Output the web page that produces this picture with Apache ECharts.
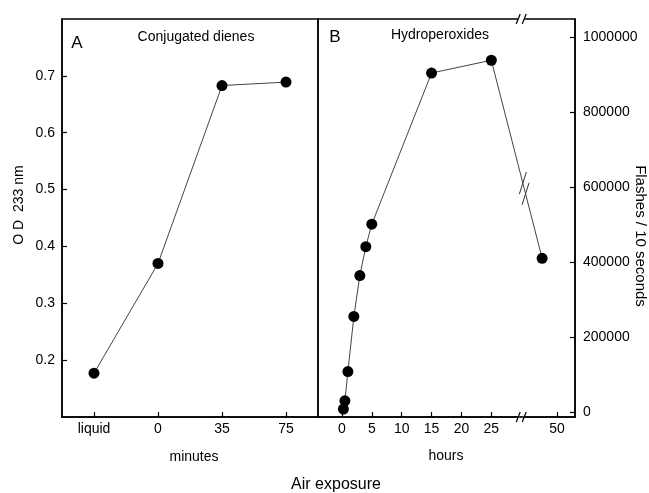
<!DOCTYPE html>
<html><head><meta charset="utf-8">
<script src="https://cdn.jsdelivr.net/npm/echarts@6/dist/echarts.min.js"></script>
<style>html,body{margin:0;padding:0;background:#fff}#c{width:649px;height:493px}</style>
</head><body><div id="c"></div>
<script>
// ---- data ----
const minuteCategories = ['liquid', '0', '35', '75'];
const dieneValues = [0.177, 0.370, 0.683, 0.689];
const hourValues = [0.25, 0.5, 1, 2, 3, 4, 5, 15, 25, 47.5];
const flashValues = [8000, 30000, 108000, 255000, 364000, 441000, 501000, 904000, 938000, 410000];
const hourTicks = [0, 5, 10, 15, 20, 25, 50];
const flashTicks = [0, 200000, 400000, 600000, 800000, 1000000];
const hourBreak = { start: 30, end: 44 };

const FONT = 'Liberation Sans, Arial, Helvetica, sans-serif';
const chart = echarts.init(document.getElementById('c'), null, { renderer: 'canvas' });

const axLine = { show: true, onZero: false, lineStyle: { color: '#000', width: 1.5 } };
const tick = { show: true, inside: true, length: 5, lineStyle: { color: '#000', width: 1.2 } };
const lab = { color: '#000', fontSize: 14, fontFamily: FONT };

chart.setOption({
  animation: false,
  backgroundColor: '#fff',
  grid: [
    { left: 62, top: 19, width: 256, height: 398, show: true, borderColor: '#000', borderWidth: 1.5, backgroundColor: 'transparent' },
    { left: 318, top: 19, width: 257, height: 398, show: true, borderColor: '#000', borderWidth: 1.5, backgroundColor: 'transparent' }
  ],
  xAxis: [
    { type: 'category', gridIndex: 0, data: minuteCategories, boundaryGap: true,
      axisLine: axLine, axisTick: Object.assign({ alignWithLabel: true }, tick),
      axisLabel: Object.assign({ margin: 5 }, lab), splitLine: { show: false } },
    { type: 'value', gridIndex: 1, min: -4, max: 53,
      breaks: [{ start: hourBreak.start, end: hourBreak.end, gap: 0 }],
      breakArea: { show: false, expandOnClick: false },
      axisLine: axLine,
      axisTick: Object.assign({ customValues: hourTicks }, tick),
      axisLabel: Object.assign({ margin: 5, customValues: hourTicks }, lab),
      splitLine: { show: false } }
  ],
  yAxis: [
    { type: 'value', gridIndex: 0, min: 0.1, max: 0.8, interval: 0.1,
      axisLine: axLine, axisTick: tick,
      axisLabel: Object.assign({ margin: 7, showMinLabel: false, showMaxLabel: false,
        formatter: v => v.toFixed(1) }, lab),
      splitLine: { show: false } },
    { type: 'value', gridIndex: 1, position: 'right', min: -13000, max: 1048000,
      axisLine: axLine,
      axisTick: Object.assign({ customValues: flashTicks }, tick),
      axisLabel: Object.assign({ margin: 8, customValues: flashTicks, formatter: v => String(Math.round(v)) }, lab),
      splitLine: { show: false } }
  ],
  series: [
    { type: 'line', xAxisIndex: 0, yAxisIndex: 0, data: dieneValues,
      symbol: 'circle', symbolSize: 11, itemStyle: { color: '#000' },
      lineStyle: { color: '#444', width: 1 }, z: 5 },
    { type: 'line', xAxisIndex: 1, yAxisIndex: 1,
      data: hourValues.map((h, i) => [h, flashValues[i]]),
      symbol: 'circle', symbolSize: 11, itemStyle: { color: '#000' },
      lineStyle: { color: '#444', width: 1 }, z: 5 }
  ]
});

// ---- break marks and texts ----
const bx = chart.convertToPixel({ xAxisIndex: 1 }, hourBreak.start);
const yTop = chart.convertToPixel({ yAxisIndex: 1 }, 1048000);
const yBot = chart.convertToPixel({ yAxisIndex: 1 }, -13000);

function axisBreak(cx, cy) {
  return { type: 'group', z: 100, children: [
    { type: 'rect', shape: { x: cx - 3, y: cy - 3, width: 6, height: 6 }, style: { fill: '#fff' } },
    { type: 'line', shape: { x1: cx - 5, y1: cy + 5, x2: cx - 1, y2: cy - 5 }, style: { stroke: '#000', lineWidth: 1.2 } },
    { type: 'line', shape: { x1: cx + 1, y1: cy + 5, x2: cx + 5, y2: cy - 5 }, style: { stroke: '#000', lineWidth: 1.2 } }
  ] };
}
// line break between the 25 h point and the last point
const pA = chart.convertToPixel({ xAxisIndex: 1, yAxisIndex: 1 }, [hourValues[8], flashValues[8]]);
const pB = chart.convertToPixel({ xAxisIndex: 1, yAxisIndex: 1 }, [hourValues[9], flashValues[9]]);
const dx = pB[0] - pA[0], dy = pB[1] - pA[1], len = Math.hypot(dx, dy);
const ux = dx / len, uy = dy / len;
const t = (bx + 3 - pA[0]) / dx;
const mx = pA[0] + dx * t, my = pA[1] + dy * t;
const s1 = [mx - ux * 5.5, my - uy * 5.5], s2 = [mx + ux * 5.5, my + uy * 5.5];
function slash(c) {
  return { type: 'line', shape: { x1: c[0] - 3.5, y1: c[1] + 11, x2: c[0] + 3.5, y2: c[1] - 11 }, style: { stroke: '#333', lineWidth: 1 } };
}
const lineBreak = { type: 'group', z: 100, children: [
  { type: 'line', shape: { x1: s1[0], y1: s1[1], x2: s2[0], y2: s2[1] }, style: { stroke: '#fff', lineWidth: 3 } },
  slash(s1), slash(s2)
] };

function txt(x, y, text, size, rot) {
  return { type: 'text', x: x, y: y, rotation: rot || 0, z: 50,
    style: { text: text, fill: '#000', font: size + 'px ' + FONT, align: 'center', verticalAlign: 'middle' } };
}

chart.setOption({ graphic: [
  axisBreak(bx, yTop), axisBreak(bx, yBot), lineBreak,
  txt(77, 43, 'A', 17), txt(196, 37, 'Conjugated dienes', 14),
  txt(335, 37, 'B', 17), txt(440, 35, 'Hydroperoxides', 14),
  txt(194, 457, 'minutes', 14), txt(446, 456, 'hours', 14),
  txt(336, 485, 'Air exposure', 16),
  txt(19, 205, 'O D  233 nm', 14, Math.PI / 2),
  txt(640, 236, 'Flashes / 10 seconds', 15, -Math.PI / 2)
] });
</script>
</body></html>
